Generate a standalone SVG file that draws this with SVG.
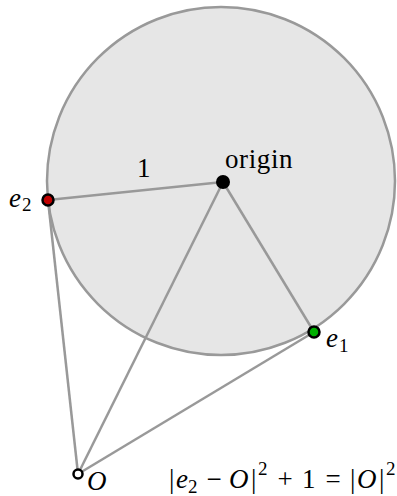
<svg xmlns="http://www.w3.org/2000/svg" width="397" height="496" viewBox="0 0 397 496">
<style>
.edge{stroke:#999;stroke-width:2.5;fill:none}
.t{font-family:"Liberation Serif","Times New Roman",serif;font-size:27px;fill:#000}
.i{font-style:italic}
.s{font-size:19px}
.m{text-anchor:middle}
</style>
<rect width="397" height="496" fill="#fff"/>
<g id="disk"><circle cx="221" cy="181" r="174" fill="#e6e6e6" stroke="#999" stroke-width="2.5"/></g>
<g id="connectors">
<line class="edge" x1="48" y1="200" x2="223" y2="182"/>
<line class="edge" x1="223" y1="182" x2="314" y2="332"/>
<line class="edge" x1="223" y1="182" x2="78" y2="474"/>
<line class="edge" x1="48" y1="200" x2="78" y2="474"/>
<line class="edge" x1="314" y1="332" x2="78" y2="474"/>
</g>
<text class="t" x="137" y="177">1</text>
<g id="origin"><circle cx="223" cy="182" r="7" fill="#000"/><text class="t" x="225" y="168" letter-spacing="0.6">origin</text></g>
<g id="e2"><circle cx="48" cy="200" r="5.5" fill="#c00000" stroke="#000" stroke-width="2.5"/><text class="t i" x="9" y="207">e</text><text class="t s" x="22" y="211">2</text></g>
<g id="e1"><circle cx="314" cy="332" r="5.5" fill="#00b000" stroke="#000" stroke-width="2.5"/><text class="t i" x="326" y="347">e</text><text class="t s" x="339" y="352">1</text></g>
<g id="O"><circle cx="78" cy="474" r="4.5" fill="#fff" stroke="#000" stroke-width="2.5"/><text class="t i" x="87" y="490">O</text></g>
<g id="equation">
<text class="t" x="169" y="488">|</text>
<text class="t i" x="176" y="488">e</text>
<text class="t s" x="188" y="493">2</text>
<text class="t m" x="214" y="488">−</text>
<text class="t i" x="229" y="488">O</text>
<text class="t" x="251" y="488">|</text>
<text class="t s" x="258" y="475">2</text>
<text class="t m" x="285" y="488">+</text>
<text class="t" x="302" y="488">1</text>
<text class="t m" x="333" y="488">=</text>
<text class="t" x="350" y="488">|</text>
<text class="t i" x="357" y="488">O</text>
<text class="t" x="379" y="488">|</text>
<text class="t s" x="386" y="475">2</text>
</g>
</svg>
